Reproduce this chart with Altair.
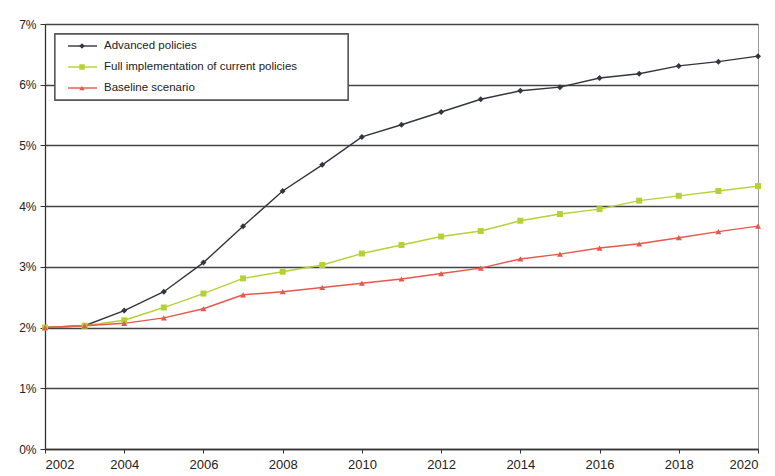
import altair as alt
import pandas as pd

years = list(range(2002, 2021))

advanced = [2.00, 2.03, 2.28, 2.59, 3.07, 3.67, 4.25, 4.68, 5.14, 5.34, 5.55, 5.76,
            5.90, 5.96, 6.11, 6.18, 6.31, 6.38, 6.47]
full_impl = [2.00, 2.03, 2.12, 2.33, 2.56, 2.81, 2.92, 3.03, 3.22, 3.36, 3.50, 3.59,
             3.76, 3.87, 3.95, 4.09, 4.17, 4.25, 4.33]
baseline = [2.00, 2.03, 2.07, 2.16, 2.31, 2.54, 2.59, 2.66, 2.73, 2.80, 2.89, 2.98,
            3.13, 3.21, 3.31, 3.38, 3.48, 3.58, 3.67]

series_names = ["Advanced policies",
                "Full implementation of current policies",
                "Baseline scenario"]
series_colors = ["#33363f", "#b4d234", "#e8574a"]
series_shapes = ["diamond", "square", "triangle-up"]

x_ticks = list(range(2002, 2021, 2))
y_ticks = [0, 0.01, 0.02, 0.03, 0.04, 0.05, 0.06, 0.07]

rows = []
for name, vals in zip(series_names, [advanced, full_impl, baseline]):
    for yr, v in zip(years, vals):
        rows.append({"year": yr, "share": v / 100.0, "series": name})
df = pd.DataFrame(rows)
legend_df = pd.DataFrame({"series": series_names})

FONT = "Liberation Sans"

color = alt.Color("series:N", scale=alt.Scale(domain=series_names, range=series_colors), legend=None)
shape = alt.Shape("series:N", scale=alt.Scale(domain=series_names, range=series_shapes), legend=None)

x_enc = alt.X("year:Q", scale=alt.Scale(domain=[2002, 2020], nice=False, zero=False),
              axis=alt.Axis(values=x_ticks, format="d", title=None, grid=False,
                            labelFontSize=13, labelPadding=5, tickSize=4,
                            domainColor="#333", domainWidth=1.3, tickColor="#333",
                            labelColor="#222", labelFont=FONT))
y_enc = alt.Y("share:Q", scale=alt.Scale(domain=[0, 0.07], nice=False),
              axis=alt.Axis(values=y_ticks, format=".0%", title=None, grid=True,
                            gridColor="#444", gridWidth=1.4,
                            labelFontSize=12, labelPadding=4, tickSize=5,
                            domainColor="#333", domainWidth=1.3, tickColor="#333",
                            labelColor="#222", labelFont=FONT))

lines = alt.Chart(df).mark_line(strokeWidth=1.4).encode(x=x_enc, y=y_enc, color=color)
points = alt.Chart(df).mark_point(filled=True, size=36, opacity=1).encode(
    x="year:Q", y="share:Q", color=color, shape=shape)
series_layer = alt.layer(lines, points)

# Legend box drawn inside the plot area, top-left
leg_y = alt.Y("series:N", scale=alt.Scale(type="point", domain=series_names,
                                          range=[22, 64], padding=0), axis=None)
box = alt.Chart(legend_df).mark_rect(fill="white", stroke="#555", strokeWidth=1.3).encode(
    x=alt.value(10), x2=alt.value(303), y=alt.value(10), y2=alt.value(76))
leg_lines = alt.Chart(legend_df).mark_rule(strokeWidth=1.4).encode(
    x=alt.value(23), x2=alt.value(52), y=leg_y, color=color)
leg_points = alt.Chart(legend_df).mark_point(filled=True, size=30, opacity=1).encode(
    x=alt.value(37), y=leg_y, color=color, shape=shape)
leg_text = alt.Chart(legend_df).mark_text(align="left", baseline="middle", fontSize=11.5,
                                          font=FONT, color="#222").encode(
    x=alt.value(59), y=leg_y, text="series:N")

legend_layer = alt.layer(box, leg_lines, leg_points, leg_text)

chart = alt.layer(series_layer, legend_layer).resolve_scale(y="independent").properties(
    width=713, height=425,
    autosize=alt.AutoSizeParams(type="none"),
    padding={"left": 45, "top": 24, "right": 17, "bottom": 27},
    background="white",
).configure_view(stroke="#999", strokeWidth=1)

chart.save("out.html", embed_options={"renderer": "svg", "actions": False})
